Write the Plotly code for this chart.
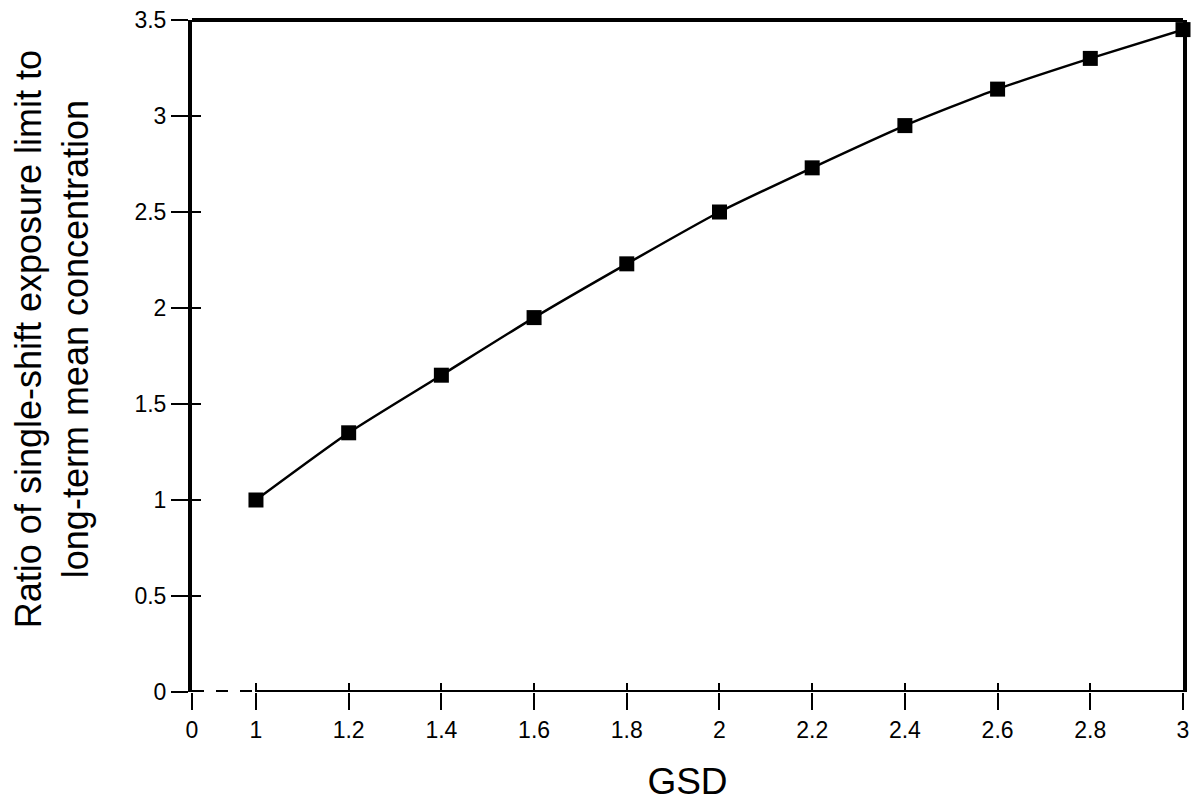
import plotly.graph_objects as go

gsd = [1.0, 1.2, 1.4, 1.6, 1.8, 2.0, 2.2, 2.4, 2.6, 2.8, 3.0]
ratio = [1.0, 1.35, 1.65, 1.95, 2.23, 2.50, 2.73, 2.95, 3.14, 3.30, 3.45]
x_tick_labels = ["0", "1", "1.2", "1.4", "1.6", "1.8", "2", "2.2", "2.4", "2.6", "2.8", "3"]
y_tick_vals = [0, 0.5, 1, 1.5, 2, 2.5, 3, 3.5]
y_tick_labels = ["0", "0.5", "1", "1.5", "2", "2.5", "3", "3.5"]
y_title = "Ratio of single-shift exposure limit to<br>long-term mean concentration"
x_title = "GSD"

BREAK_POS = 0.862  # where the "0" of the broken axis sits
x_tick_vals = [BREAK_POS] + gsd

FONT = "Liberation Sans, Arial, sans-serif"

fig = go.Figure()
fig.add_trace(go.Scatter(
    x=gsd, y=ratio, mode="lines+markers",
    line=dict(color="black", width=2.5, shape="spline", smoothing=0.6),
    marker=dict(symbol="square", size=15, color="black"),
    showlegend=False, cliponaxis=False,
))

# invisible trace so the inner-tick overlay axes are drawn
fig.add_trace(go.Scatter(x=[gsd[0]], y=[ratio[0]], xaxis="x2", yaxis="y2",
                         mode="markers", marker=dict(opacity=0), showlegend=False,
                         hoverinfo="skip"))

fig.update_layout(
    width=1200, height=800,
    paper_bgcolor="white", plot_bgcolor="white",
    margin=dict(l=184, r=25, t=12, b=116),
    font=dict(family=FONT, color="black", size=23),
    xaxis=dict(
        range=[BREAK_POS, 3.0], tickvals=x_tick_vals, ticktext=x_tick_labels,
        ticks="outside", ticklen=17, tickwidth=2, tickcolor="black",
        showline=False, showgrid=False, zeroline=False, automargin=False,
        ticklabeloverflow="allow",
        tickfont=dict(size=23, family=FONT),
        title=dict(text=x_title, font=dict(size=37, family=FONT), standoff=26),
    ),
    yaxis=dict(
        range=[0, 3.5], tickvals=y_tick_vals, ticktext=y_tick_labels,
        ticks="outside", ticklen=17, tickwidth=2, tickcolor="black",
        showline=True, linewidth=4, linecolor="black", mirror=True,
        showgrid=False, zeroline=False, automargin=False,
        ticklabeloverflow="allow",
        tickfont=dict(size=23, family=FONT),
    ),
    xaxis2=dict(overlaying="x", range=[BREAK_POS, 3.0], tickvals=x_tick_vals,
                ticks="inside", ticklen=9, tickwidth=2, tickcolor="black",
                showticklabels=False, showgrid=False, zeroline=False, showline=False,
                automargin=False),
    yaxis2=dict(overlaying="y", range=[0, 3.5], tickvals=y_tick_vals,
                ticks="inside", ticklen=9, tickwidth=2, tickcolor="black",
                showticklabels=False, showgrid=False, zeroline=False, showline=False,
                automargin=False),
    annotations=[
        dict(text=y_title, textangle=-90, xref="paper", yref="paper",
             x=-0.1413, y=0.525, xanchor="center", yanchor="middle",
             showarrow=False, font=dict(size=36, family=FONT, color="black")),
    ],
    shapes=[
        # dashed break segment of the x axis
        dict(type="line", xref="x", yref="y", x0=BREAK_POS, x1=1.0, y0=0, y1=0,
             line=dict(color="black", width=4, dash="dash"), layer="above"),
        # solid x axis from 1 to 3
        dict(type="line", xref="x", yref="y", x0=1.0, x1=3.0, y0=0, y1=0,
             line=dict(color="black", width=4), layer="above"),
        # top frame
        dict(type="line", xref="paper", yref="paper", x0=0, x1=1, y0=1, y1=1,
             line=dict(color="black", width=4), layer="above"),
    ],
)

fig.write_html("out.html")
